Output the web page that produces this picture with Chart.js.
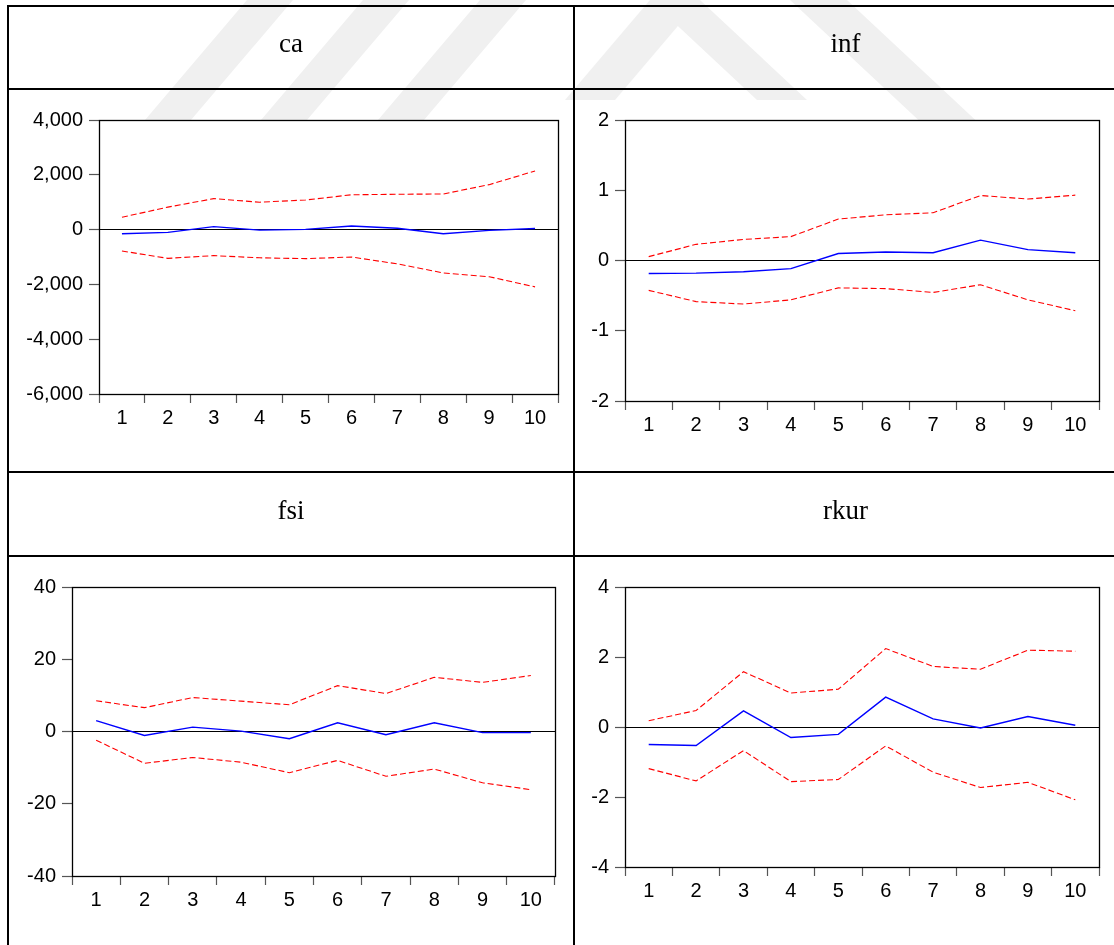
<!DOCTYPE html>
<html>
<head>
<meta charset="utf-8">
<script src="https://cdn.jsdelivr.net/npm/chart.js@4.4.1/dist/chart.umd.min.js"></script>
<style>
  html, body { margin: 0; padding: 0; background: #fff; }
  #page { position: relative; width: 1114px; height: 945px; overflow: hidden; background: #fff; }
  #mark { position: absolute; left: 0; top: 0; z-index: 0; }
  .hline { position: absolute; height: 2px; background: #000; z-index: 2; }
  .vline { position: absolute; width: 2px; background: #000; z-index: 2; }
  .head { position: absolute; height: 40px; line-height: 40px; text-align: center; z-index: 2;
          font-family: "Liberation Serif", "Times New Roman", serif; font-size: 27px; color: #000; }
  canvas { position: absolute; z-index: 1; }
</style>
</head>
<body>
<div id="page">
  <!-- faint background watermark stripes -->
  <svg id="mark" width="1114" height="160">
    <g fill="#f0f0f0">
      <polygon points="247,0 293,0 123,200 77,200"/>
      <polygon points="363,0 409,0 239,200 193,200"/>
      <polygon points="480,0 526,0 356,200 310,200"/>
      <polygon points="650,0 700,0 615,100 565,100"/>
      <polygon points="650,0 700,0 807,100 757,100"/>
      <polygon points="790,0 847,0 1061,200 1004,200"/>
    </g>
  </svg>

  <div class="hline" style="left:7px; width:1107px; top:5px"></div>
  <div class="hline" style="left:7px; width:1107px; top:88px"></div>
  <div class="hline" style="left:7px; width:1107px; top:471px"></div>
  <div class="hline" style="left:7px; width:1107px; top:555px"></div>
  <div class="vline" style="left:7px; top:5px; height:940px"></div>
  <div class="vline" style="left:573px; top:5px; height:940px"></div>

  <div class="head" style="left:8px; width:566px; top:23px">ca</div>
  <div class="head" style="left:574px; width:543px; top:23px">inf</div>
  <div class="head" style="left:8px; width:566px; top:490px">fsi</div>
  <div class="head" style="left:574px; width:543px; top:490px">rkur</div>
</div>

<script>
// periods 1..10
const periods = ['1', '2', '3', '4', '5', '6', '7', '8', '9', '10'];

// ca
const caResp  = [-150, -100, 110, -20, 10, 130, 50, -150, -30, 40];
const caUpper = [450, 820, 1130, 1000, 1080, 1270, 1290, 1300, 1640, 2140];
const caLower = [-780, -1050, -950, -1030, -1060, -1000, -1250, -1580, -1720, -2090];
const caTicks = [-6000, -4000, -2000, 0, 2000, 4000];

// inf
const infResp  = [-0.185, -0.18, -0.16, -0.115, 0.10, 0.12, 0.11, 0.29, 0.155, 0.11];
const infUpper = [0.055, 0.23, 0.30, 0.34, 0.59, 0.65, 0.68, 0.925, 0.875, 0.93];
const infLower = [-0.425, -0.585, -0.62, -0.56, -0.39, -0.40, -0.455, -0.345, -0.56, -0.715];
const infTicks = [-2, -1, 0, 1, 2];

// fsi
const fsiResp  = [3.0, -1.1, 1.2, 0.1, -2.0, 2.4, -0.9, 2.4, -0.3, -0.3];
const fsiUpper = [8.5, 6.6, 9.4, 8.4, 7.4, 12.7, 10.5, 15.0, 13.6, 15.5];
const fsiLower = [-2.4, -8.8, -7.2, -8.5, -11.4, -8.0, -12.4, -10.4, -14.2, -16.1];
const fsiTicks = [-40, -20, 0, 20, 40];

// rkur
const rkurResp  = [-0.50, -0.53, 0.46, -0.30, -0.21, 0.855, 0.23, -0.03, 0.30, 0.05];
const rkurUpper = [0.18, 0.47, 1.58, 0.97, 1.08, 2.24, 1.73, 1.65, 2.195, 2.165];
const rkurLower = [-1.19, -1.54, -0.675, -1.56, -1.50, -0.54, -1.29, -1.73, -1.58, -2.08];
const rkurTicks = [-4, -2, 0, 2, 4];

Chart.defaults.font.family = '"Liberation Sans", Arial, sans-serif';
Chart.defaults.font.size = 20;
Chart.defaults.color = '#000';

const plotFrame = {
  id: 'plotFrame',
  beforeDraw(chart) {
    const a = chart.chartArea, c = chart.ctx;
    c.save();
    c.fillStyle = '#fff';
    c.fillRect(a.left, a.top, a.right - a.left, a.bottom - a.top);
    c.restore();
  },
  afterDraw(chart) {
    const a = chart.chartArea, c = chart.ctx;
    c.save();
    c.strokeStyle = '#000';
    c.lineWidth = 1.3;
    c.strokeRect(Math.round(a.left) + 0.5, Math.round(a.top) + 0.5,
                 Math.round(a.right - a.left), Math.round(a.bottom - a.top));
    c.restore();
  }
};

function makePanel(box, yW, resp, upper, lower, ticks) {
  const padTop = 22, padRight = 6, xH = 50;
  const cv = document.createElement('canvas');
  cv.width = (box.r - box.l) + yW + padRight;
  cv.height = (box.b - box.t) + padTop + xH;
  cv.style.left = (box.l - yW) + 'px';
  cv.style.top = (box.t - padTop) + 'px';
  document.getElementById('page').appendChild(cv);

  const band = (d) => ({
    data: d, borderColor: '#ff0000', borderWidth: 1.1, borderDash: [6, 3],
    pointRadius: 0, tension: 0, fill: false
  });

  new Chart(cv, {
    type: 'line',
    data: {
      labels: periods,
      datasets: [
        band(upper),
        band(lower),
        { data: resp, borderColor: '#0000ff', borderWidth: 1.4, pointRadius: 0, tension: 0, fill: false }
      ]
    },
    options: {
      responsive: false,
      animation: false,
      layout: { padding: { top: padTop, right: padRight, left: 0, bottom: 0 } },
      plugins: { legend: { display: false }, tooltip: { enabled: false } },
      scales: {
        x: {
          offset: true,
          grid: { offset: true, drawOnChartArea: false, tickLength: 9, tickColor: '#555', tickWidth: 1.2 },
          border: { display: false },
          ticks: { padding: 3, maxRotation: 0, autoSkip: false },
          afterFit: (s) => { s.height = xH; }
        },
        y: {
          min: ticks[0],
          max: ticks[ticks.length - 1],
          afterBuildTicks: (s) => { s.ticks = ticks.map(v => ({ value: v })); },
          grid: {
            tickLength: 10, tickColor: '#555', tickWidth: 1.2,
            color: (ctx) => (ctx.tick && ctx.tick.value === 0) ? '#000' : 'rgba(0,0,0,0)',
            lineWidth: 1
          },
          border: { display: false },
          ticks: { padding: 6, callback: (v) => v.toLocaleString('en-US') },
          afterFit: (s) => { s.width = yW; }
        }
      }
    },
    plugins: [plotFrame]
  });
}

makePanel({ l: 99, t: 120, r: 558, b: 394 }, 80, caResp, caUpper, caLower, caTicks);
makePanel({ l: 625, t: 120, r: 1099, b: 401 }, 60, infResp, infUpper, infLower, infTicks);
makePanel({ l: 72, t: 587, r: 555, b: 876 }, 60, fsiResp, fsiUpper, fsiLower, fsiTicks);
makePanel({ l: 625, t: 587, r: 1099, b: 867 }, 60, rkurResp, rkurUpper, rkurLower, rkurTicks);
</script>
</body>
</html>
